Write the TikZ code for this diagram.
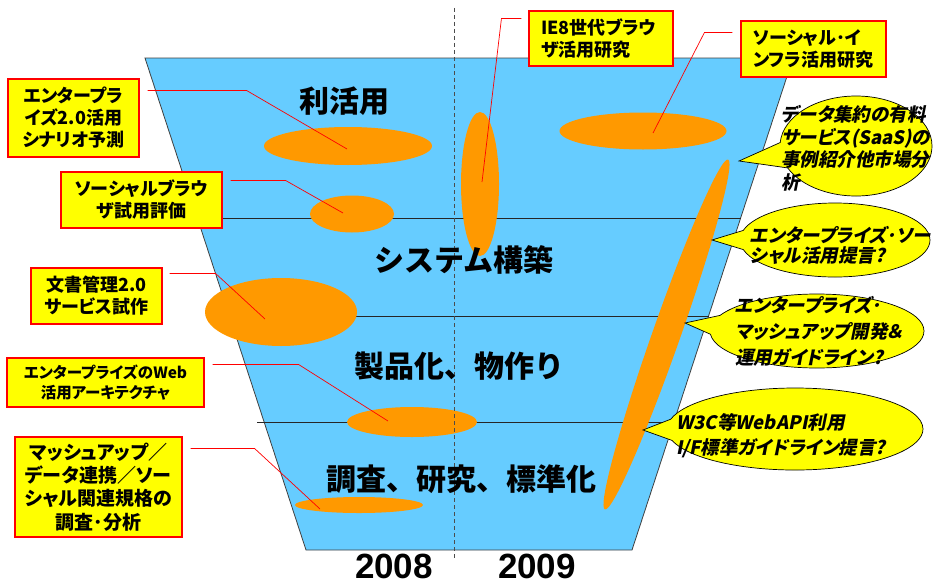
\documentclass[tikz,border=0pt]{standalone}
\usepackage{fontspec}
\usetikzlibrary{shapes.geometric,shapes.callouts,calc}
\newfontfamily\jp{Noto Sans CJK JP}[RawFeature={+palt}]
\newfontfamily\jpfull{Noto Sans CJK JP}
\newfontfamily\jpit{Noto Sans CJK JP}[RawFeature={+palt},FakeSlant=0.2]
\newfontfamily\yearfont{Liberation Sans}
\definecolor{skyb}{HTML}{66CCFF}
\definecolor{orng}{HTML}{FF9900}
\definecolor{yel}{HTML}{FFFF00}
\definecolor{redl}{HTML}{FF0000}
\tikzset{
  bluebody/.style={fill=skyb, draw=black!75, line width=0.8pt},
  sepline/.style={draw=black!85, line width=1pt},
  yearline/.style={draw=black!70, line width=0.9pt, dash pattern=on 4pt off 3pt},
  blob/.style={ellipse, fill=orng, draw=none, inner sep=0pt},
  ybox/.style={rectangle, fill=yel, draw=redl, line width=1.1pt, inner sep=0pt,
    font=\jp\bfseries\fontsize{18}{22}\selectfont, align=center},
  leader/.style={draw=redl, line width=0.7pt},
  bubble/.style={ellipse callout, fill=yel, draw=black, line width=0.7pt,
    callout pointer arc=30, inner sep=0pt},
  bubbletext/.style={font=\jpit\bfseries\fontsize{18.5}{22.5}\selectfont,
    align=left, inner sep=0pt, anchor=west},
  stage/.style={font=\jpfull\bfseries\fontsize{30}{36}\selectfont, inner sep=0pt},
  yearlabel/.style={font=\yearfont\bfseries\fontsize{35}{40}\selectfont, inner sep=0pt, anchor=base}
}
\begin{document}
\begin{tikzpicture}[x=1pt,y=-1pt]
\useasboundingbox (0,0) rectangle (933,586);
% funnel body
\path[bluebody] (145,58) -- (793,58) -- (632,550) -- (306,550) -- cycle;
% stage separators
\draw[sepline] (190,218) -- (741,218);
\draw[sepline] (222,316) -- (709,316);
\draw[sepline] (257,422) -- (674,422);
% orange blobs
\node[blob, minimum width=168pt, minimum height=38pt] (e1) at (348,146) {};
\node[blob, minimum width=84pt, minimum height=37pt] (e2) at (352,214) {};
\node[blob, minimum width=38pt, minimum height=144pt] (e3) at (480,184) {};
\node[blob, minimum width=167pt, minimum height=37pt] (e4) at (643,131) {};
\node[blob, minimum width=152pt, minimum height=68pt] (e5) at (281,312) {};
\node[blob, minimum width=130pt, minimum height=30pt] (e6) at (412,422) {};
\node[blob, minimum width=128pt, minimum height=16pt] (e7) at (359,505) {};
\node[blob, minimum width=371pt, minimum height=28pt, rotate=70.6] (e8) at (666.5,334.5) {};
% year divider
\draw[yearline] (454,8) -- (454,560);
% yellow boxes
\node[ybox, minimum width=131pt, minimum height=78pt] (b1) at (73.5,118) {エンタープラ\\イズ2.0活用\\シナリオ予測};
\node[ybox, minimum width=161pt, minimum height=56pt] (b2) at (141.5,200) {ソーシャルブラウ\\ザ試用評価};
\node[ybox, minimum width=131pt, minimum height=56pt] (b3) at (96.5,296) {文書管理2.0\\サービス試作};
\node[ybox, minimum width=197pt, minimum height=49pt,
  font=\jp\bfseries\fontsize{15.5}{20}\selectfont] (b4) at (105.5,382.5) {エンタープライズのWeb\\活用アーキテクチャ};
\node[ybox, minimum width=167pt, minimum height=100pt,
  font=\jp\bfseries\fontsize{19}{23.3}\selectfont] (b5) at (98.5,487) {マッシュアップ／\\データ連携／ソー\\シャル関連規格の\\調査･分析};
\node[ybox, align=left, text width=120pt, inner xsep=12pt, minimum height=55pt] (b6) at (601,38.5) {IE8世代ブラウ\\ザ活用研究};
\node[ybox, align=left, text width=121pt, inner xsep=12pt, minimum height=56pt] (b7) at (813.5,49) {ソーシャル･イ\\ンフラ活用研究};
% leader lines
\draw[leader] ($(b1.north east)+(8,12)$) -- ++(99,0) -- ([shift={(-1,3)}]e1.center);
\draw[leader] ($(b2.north east)+(8,9)$) -- ++(55,0) -- ([shift={(-9,-1)}]e2.center);
\draw[leader] ($(b3.north east)+(7,6)$) -- ++(46,0) -- ([shift={(-16,7)}]e5.center);
\draw[leader] ($(b4.north east)+(8,7)$) -- ++(86,0) -- ([shift={(-24,-1)}]e6.center);
\draw[leader] ($(b5.north east)+(8,12)$) -- ++(64,0) -- ([shift={(-39,4)}]e7.center);
\draw[leader] ($(b6.north west)+(-7,8)$) -- ++(-20,0) -- ([shift={(2,-2)}]e3.center);
\draw[leader] ($(b7.north west)+(-8,12)$) -- ++(-28,0) -- ([shift={(10,2)}]e4.center);
% callouts
\coordinate (t1) at (739,161);
\coordinate (t2) at (712,240);
\coordinate (t3) at (685,323);
\coordinate (t4) at (643,430);
\node[bubble, minimum width=152pt, minimum height=100pt, callout absolute pointer=(t1)] (c1) at (856,146) {};
\node[bubble, minimum width=190pt, minimum height=74pt, callout absolute pointer=(t2)] (c2) at (835,240) {};
\node[bubble, minimum width=214pt, minimum height=74pt, callout absolute pointer=(t3)] (c3) at (817,331) {};
\node[bubble, minimum width=256pt, minimum height=82pt, callout absolute pointer=(t4)] (c4) at (795,429) {};
\node[bubbletext] (c1t) at (781,148.5) {データ集約の有料\\サービス(SaaS)の\\事例紹介他市場分\\析};
\node[bubbletext, font=\jpit\bfseries\fontsize{18.5}{20}\selectfont] (c2t) at (750,245) {エンタープライズ･ソー\\シャル活用提言?};
\node[bubbletext, font=\jpit\bfseries\fontsize{18.5}{26}\selectfont] (c3t) at (735,331) {エンタープライズ･\\マッシュアップ開発＆\\運用ガイドライン?};
\node[bubbletext, font=\jpit\bfseries\fontsize{18.5}{25}\selectfont] (c4t) at (676,435.5) {W3C等WebAPI利用\\I/F標準ガイドライン提言?};
% stage labels
\node[stage] (s1) at (344,101) {利活用};
\node[stage] (s2) at (464,260) {システム構築};
\node[stage] (s3) at (459,366) {製品化、物作り};
\node[stage] (s4) at (461,479) {調査、研究、標準化};
% years
\node[yearlabel] (y1) at (394,578) {2008};
\node[yearlabel] (y2) at (537,578) {2009};
\end{tikzpicture}
\end{document}
